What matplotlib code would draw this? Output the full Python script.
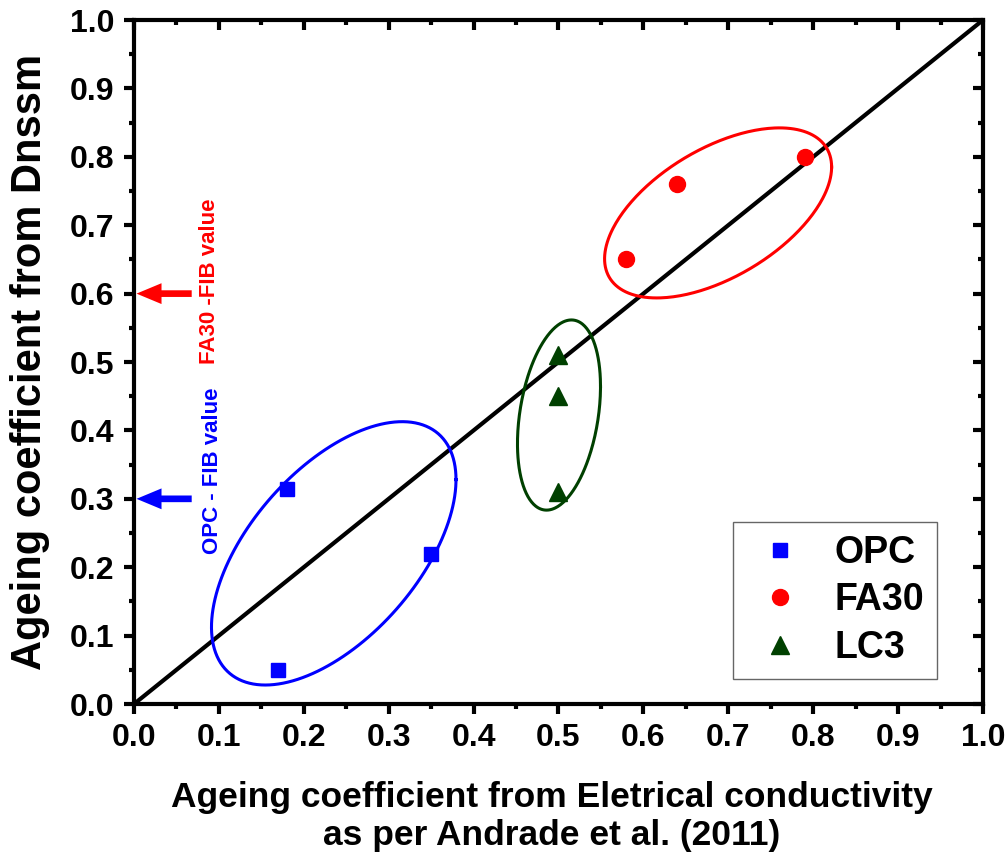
import numpy as np
import matplotlib.pyplot as plt
from matplotlib.ticker import MultipleLocator

plt.rcParams['font.family'] = ['Liberation Sans', 'DejaVu Sans']
plt.rcParams['font.weight'] = 'bold'

# ageing coefficients: electrical conductivity (x) vs Dnssm (y)
opc_x = [0.17, 0.18, 0.35]
opc_y = [0.05, 0.315, 0.22]
fa30_x = [0.58, 0.64, 0.79]
fa30_y = [0.65, 0.76, 0.80]
lc3_x = [0.50, 0.50, 0.50]
lc3_y = [0.51, 0.45, 0.31]

# FIB reference values
fib_opc = 0.30
fib_fa30 = 0.60

# grouping ellipses: centre x, centre y, half-width, half-height, tilt (cos of phase)
ell_opc = (0.2353, 0.2203, 0.144, 0.1925, 0.56)
ell_fa30 = (0.688, 0.718, 0.1337, 0.1243, 0.54)
ell_lc3 = (0.5006, 0.4225, 0.0489, 0.139, 0.30)

c_opc = '#0000FF'
c_fa30 = '#FF0000'
c_lc3 = '#004000'

rect = [0.1333, 0.1804, 0.8448, 0.7963]
fig = plt.figure(figsize=(10.05, 8.59), dpi=100)
ax = fig.add_axes(rect)

# 1:1 line
ax.plot([0, 1], [0, 1], color='black', lw=3.0, zorder=2)


def draw_ellipse(e, color):
    cx, cy, a, b, c = e
    phi = np.arccos(c)
    t = np.linspace(0, 2 * np.pi, 300)
    ax.plot(cx + a * np.cos(t), cy + b * np.cos(t - phi), color=color, lw=2.2, zorder=2)


draw_ellipse(ell_opc, c_opc)
draw_ellipse(ell_fa30, c_fa30)
draw_ellipse(ell_lc3, c_lc3)

ax.plot(opc_x, opc_y, 's', color=c_opc, ms=10.5, ls='none', label='OPC', zorder=3)
ax.plot(fa30_x, fa30_y, 'o', color=c_fa30, ms=11.5, ls='none', label='FA30', zorder=3)
ax.plot(lc3_x, lc3_y, '^', color=c_lc3, ms=12.5, ls='none', label='LC3', zorder=3)

# FIB arrows
arrow_style = 'simple,head_length=1.2,head_width=1.0,tail_width=0.32'
for val, col in [(fib_fa30, c_fa30), (fib_opc, c_opc)]:
    ax.annotate('', xy=(0.003, val), xytext=(0.068, val),
                arrowprops=dict(arrowstyle=arrow_style, color=col, mutation_scale=15,
                                shrinkA=0, shrinkB=0, lw=0))
ax.text(0.0895, 0.618, 'FA30 -FIB value', color=c_fa30, rotation=90,
        fontsize=16, fontweight='bold', ha='center', va='center')
ax.text(0.093, 0.3406, 'OPC - FIB value', color=c_opc, rotation=90,
        fontsize=16, fontweight='bold', ha='center', va='center')

ax.set_xlim(0, 1)
ax.set_ylim(0, 1)
ax.xaxis.set_major_locator(MultipleLocator(0.1))
ax.yaxis.set_major_locator(MultipleLocator(0.1))
ax.xaxis.set_minor_locator(MultipleLocator(0.05))
ax.yaxis.set_minor_locator(MultipleLocator(0.05))
ax.xaxis.set_major_formatter(lambda v, p: f'{v:.1f}')
ax.yaxis.set_major_formatter(lambda v, p: f'{v:.1f}')

for s in ax.spines.values():
    s.set_linewidth(3)
ax.tick_params(which='major', direction='out', length=7, width=3, labelsize=23, pad=7)
ax.tick_params(which='minor', direction='out', length=3.5, width=3)

ax.set_xlabel('Ageing coefficient from Eletrical conductivity\nas per Andrade et al. (2011)',
              fontsize=25.5, fontweight='bold', labelpad=20, linespacing=1.2)
ax.xaxis.label.set_x(0.4925)
ax.set_ylabel('Ageing coefficient from Dnssm', fontsize=30, fontweight='bold', labelpad=14)

leg = ax.legend(loc='upper left', bbox_to_anchor=(0.7055, 0.266), borderaxespad=0,
                fontsize=27, frameon=True, fancybox=False, edgecolor='#404040',
                handletextpad=0.55, labelspacing=0.3, borderpad=0.35, handlelength=1.8)
leg.get_frame().set_linewidth(1.0)
for t in leg.get_texts():
    t.set_fontweight('bold')

# overlay axes carrying the inward ticks on the top and right edges
ov = fig.add_axes(rect, frameon=False)
ov.set_xlim(0, 1)
ov.set_ylim(0, 1)
ov.xaxis.set_major_locator(MultipleLocator(0.1))
ov.yaxis.set_major_locator(MultipleLocator(0.1))
ov.xaxis.set_minor_locator(MultipleLocator(0.05))
ov.yaxis.set_minor_locator(MultipleLocator(0.05))
ov.tick_params(which='both', direction='in', width=3, color='black',
               bottom=False, left=False, top=True, right=True,
               labelbottom=False, labelleft=False, labeltop=False, labelright=False)
ov.tick_params(which='major', length=7)
ov.tick_params(which='minor', length=3.5)

fig.savefig('out.png', dpi=100)
